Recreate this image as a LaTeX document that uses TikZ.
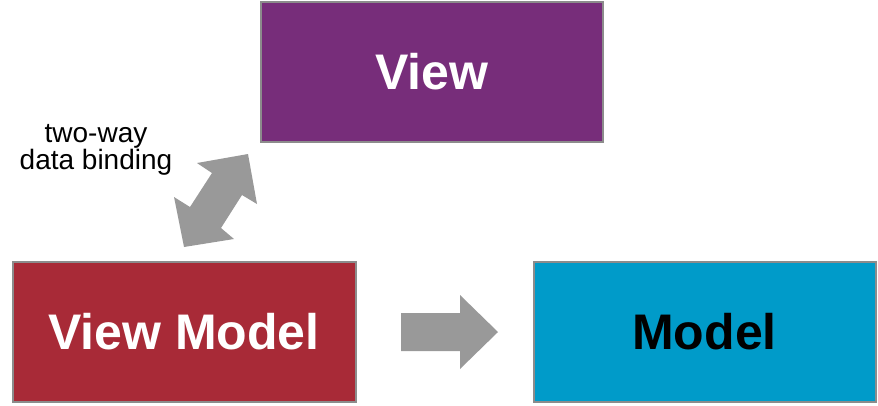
\documentclass[tikz,border=0pt]{standalone}
\usepackage{fontspec}
\setmainfont{Liberation Sans}
\definecolor{viewc}{HTML}{772D7A}
\definecolor{vmc}{HTML}{A82A37}
\definecolor{modelc}{HTML}{009BC9}
\definecolor{arrc}{HTML}{999999}
\definecolor{edgec}{HTML}{8C8C8C}
\begin{document}
\begin{tikzpicture}[x=1pt,y=-1pt,
  boxst/.style={draw=edgec,line width=2pt,minimum width=342pt,minimum height=140pt,inner sep=0pt,font=\fontsize{50}{56}\selectfont\bfseries},
  arrst/.style={fill=arrc,draw=none}]
\useasboundingbox (0,0) rectangle (878,405);
\node[boxst,fill=viewc,text=white] (view) at (432,72) {View};
\node[boxst,fill=vmc,text=white,minimum width=343pt] (vm) at (184,332) {View Model};
\node[boxst,fill=modelc,text=black] (model) at (704.5,332) {Model};
\node[align=center,font=\fontsize{28}{24.5}\selectfont,inner sep=0pt] (lbl) at (96,150) {two-way\\data binding};
\fill[arrst] (401,313) -- (460,313) -- (460,295) -- (498,332) -- (460,369) -- (460,351) -- (401,351) -- cycle;
\fill[arrst] (248,154) -- (257,204) -- (242,195) -- (221,228) -- (234,239) -- (184,247) -- (174,197) -- (190,207) -- (212,173) -- (197,163) -- cycle;
\end{tikzpicture}
\end{document}
